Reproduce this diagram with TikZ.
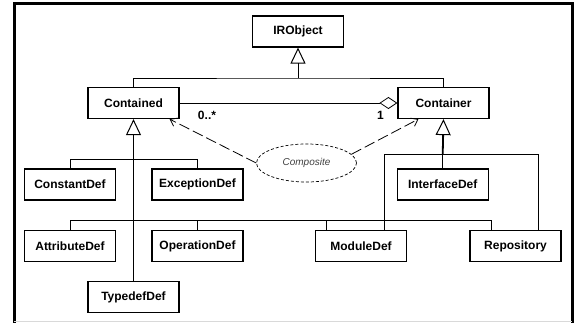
\documentclass[tikz,border=0pt]{standalone}
\usepackage{fontspec}
\setmainfont{Liberation Sans}
\usetikzlibrary{arrows.meta,shapes.geometric}

\tikzset{
  classbox/.style={draw, line width=1.2pt, minimum width=91pt, minimum height=31pt, inner sep=0pt, font=\fontsize{12}{14}\selectfont\bfseries},
  link/.style={line width=0.8pt},
  gen/.style={link, -{Triangle[open, length=16pt, width=15pt, line width=1pt]}},
  depend/.style={link, dash pattern=on 11pt off 4pt, -{Straight Barb[length=6pt, width=9pt, line width=0.8pt]}},
  mult/.style={inner sep=0pt, font=\fontsize{12}{14}\selectfont\bfseries}
}

\begin{document}
\begin{tikzpicture}[x=1pt,y=-1pt]
\useasboundingbox (0,0) rectangle (575,323);

%Frame
\draw [line width=3pt] (14.3,323) -- (14.3,3.5) -- (572,3.5) -- (572,323) ;
\draw [gray!30, line width=1pt] (14.3,321.5) -- (572,321.5) ;

%Class boxes
\node [classbox] (IRObject) at (298,31.5) {IRObject};
\node [classbox] (Contained) at (133.5,103) {Contained};
\node [classbox] (Container) at (443.5,103) {Container};
\node [classbox] (ConstantDef) at (70,184.5) {ConstantDef};
\node [classbox] (ExceptionDef) at (197.5,184.5) {ExceptionDef};
\node [classbox] (InterfaceDef) at (442.7,184.5) {InterfaceDef};
\node [classbox] (AttributeDef) at (70,246) {AttributeDef};
\node [classbox] (OperationDef) at (197.5,246) {OperationDef};
\node [classbox] (ModuleDef) at (361,246) {ModuleDef};
\node [classbox] (Repository) at (515.5,246) {Repository};
\node [classbox] (TypedefDef) at (133.5,297) {TypedefDef};

%Collaboration
\node [ellipse, draw, line width=0.7pt, dash pattern=on 3pt off 2pt, minimum width=100pt, minimum height=38pt, inner sep=0pt, text=black!75, font=\fontsize{10}{12}\selectfont\itshape] (Composite) at (306.5,163) {Composite};

%Junctions
\coordinate (irbar) at (298,78);
\coordinate (upbar) at (133.5,159.3);
\coordinate (lowbar) at (133.5,220.7);
\coordinate (cbar) at (442.7,154.7);
\coordinate (modstub) at ([xshift=11pt]ModuleDef.north west);
\coordinate (repostub) at ([xshift=22pt]Repository.north west);
\coordinate (modcont) at ([xshift=-23pt]ModuleDef.north east);
\coordinate (repocont) at ([xshift=-23pt]Repository.north east);

%IRObject generalization
\draw [link] (Contained.north) |- (irbar) -| (Container.north) ;
\draw [gen] (irbar) -- (IRObject.south) ;

%Contained generalization
\draw [link] (ConstantDef.north) |- (upbar) -| (ExceptionDef.north) ;
\draw [link] (AttributeDef.north) |- (lowbar) -| (repostub) ;
\draw [link] (OperationDef.north) -- (OperationDef.north |- lowbar) ;
\draw [link] (modstub) -- (modstub |- lowbar) ;
\draw [link] (TypedefDef.north) -- (lowbar) ;
\draw [gen, line width=1.8pt] (lowbar) -- (Contained.south) ;

%Container generalization
\draw [link] (modcont) |- (cbar) -| (repocont) ;
\draw [link] (InterfaceDef.north) -- (cbar) ;
\draw [gen, line width=1.8pt] (cbar) -- (Container.south) ;

%Aggregation
\draw [link, -{Diamond[open, length=18pt, width=12pt, line width=0.8pt]}] (Contained.east) -- (Container.west) ;
\node [mult] (many) at (207,115.5) {0..*};
\node [mult] (one) at (380.5,115.5) {1};

%Collaboration roles
\draw [depend] (Composite.west) -- ([xshift=-10pt]Contained.south east) ;
\draw [depend] (Composite.11) -- ([xshift=21pt]Container.south west) ;

\end{tikzpicture}
\end{document}
